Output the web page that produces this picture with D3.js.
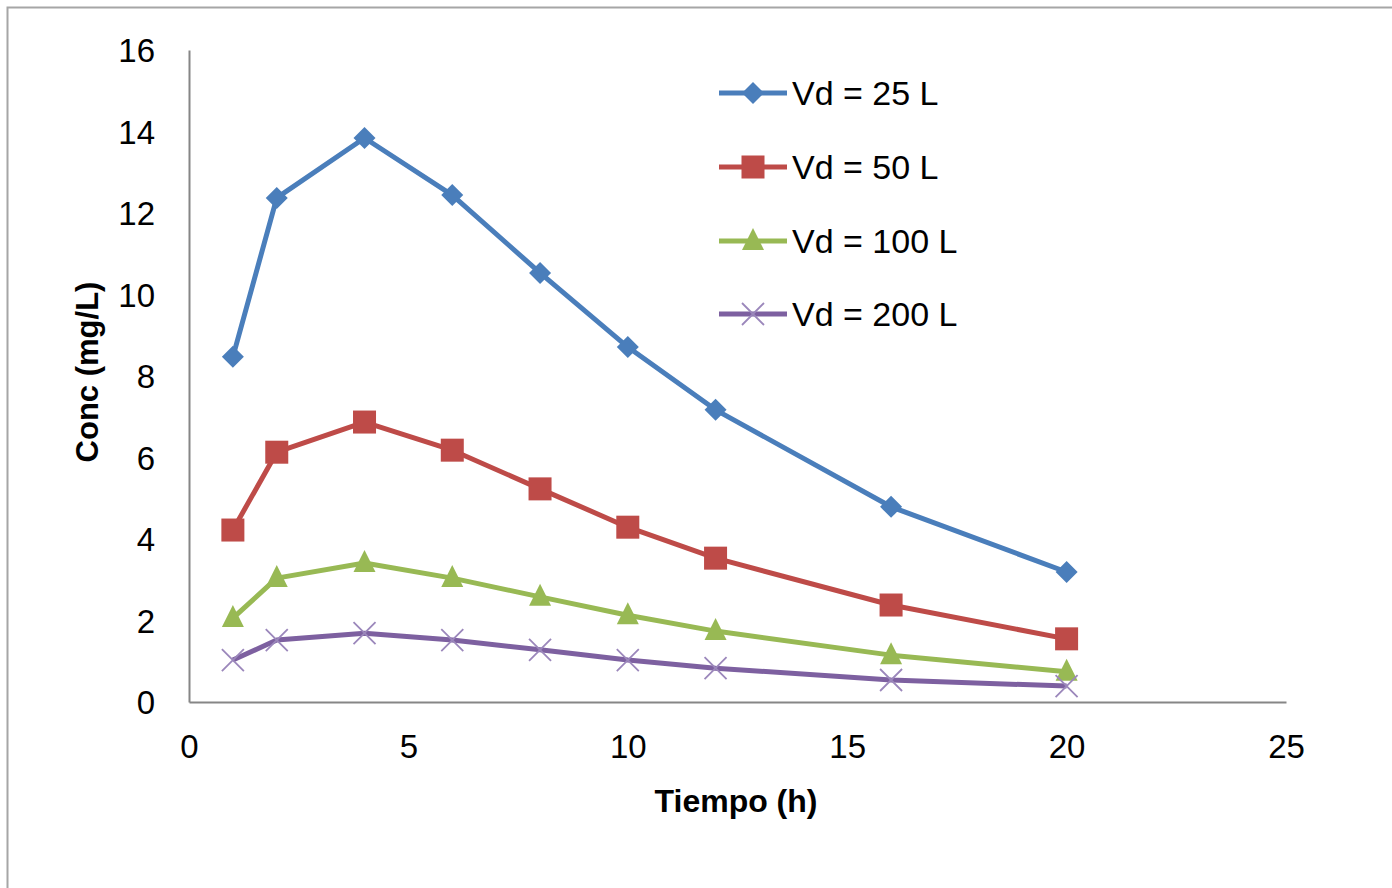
<!DOCTYPE html>
<html>
<head>
<meta charset="utf-8">
<script src="https://cdn.jsdelivr.net/npm/d3@7"></script>
<style>
  html, body { margin: 0; padding: 0; background: #fff; }
  svg { display: block; }
  text { font-family: "Liberation Sans", Arial, sans-serif; fill: #000; }
</style>
</head>
<body>
<svg id="chart" width="1392" height="888"></svg>
<script>
// ---- Data ----
const times = [1, 2, 4, 6, 8, 10, 12, 16, 20];
const vd25  = [8.47, 12.37, 13.84, 12.44, 10.53, 8.71, 7.17, 4.79, 3.19];
const vd50  = [4.22, 6.13, 6.87, 6.18, 5.23, 4.29, 3.53, 2.38, 1.55];
const vd100 = [2.06, 3.04, 3.41, 3.04, 2.58, 2.13, 1.74, 1.15, 0.74];
const vd200 = [1.03, 1.52, 1.69, 1.52, 1.28, 1.03, 0.83, 0.54, 0.39];
const seriesNames = ["Vd = 25 L", "Vd = 50 L", "Vd = 100 L", "Vd = 200 L"];
const xTicks = [0, 5, 10, 15, 20, 25];
const yTicks = [0, 2, 4, 6, 8, 10, 12, 14, 16];

const seriesValues = [vd25, vd50, vd100, vd200];
const colors = ["#4A7EBB", "#BE4B48", "#98B954", "#7D60A0"];
const markers = ["diamond", "square", "triangle", "cross"];

const svg = d3.select("#chart");

// outer chart border
svg.append("rect")
  .attr("x", 7.5).attr("y", 7.5)
  .attr("width", 1400).attr("height", 900)
  .attr("fill", "none")
  .attr("stroke", "#A6A6A6")
  .attr("stroke-width", 2);

const x = d3.scaleLinear().domain([0, 25]).range([189, 1286]);
const y = d3.scaleLinear().domain([0, 16]).range([702, 50]);

// axes
const xAxis = d3.axisBottom(x).tickValues(xTicks).tickSize(0).tickPadding(0).tickFormat(d3.format("d"));
const yAxis = d3.axisLeft(y).tickValues(yTicks).tickSize(0).tickPadding(0).tickFormat(d3.format("d"));

const gx = svg.append("g").attr("transform", `translate(0,${y(0)})`).call(xAxis);
gx.select(".domain").attr("stroke", "#868686").attr("stroke-width", 2);
gx.selectAll(".tick text")
  .attr("font-size", 33)
  .attr("font-family", "'Liberation Sans', Arial, sans-serif")
  .attr("fill", "#000")
  .attr("dy", null)
  .attr("y", 56);

const gy = svg.append("g").attr("transform", `translate(${x(0)},0)`).call(yAxis);
gy.select(".domain").attr("stroke", "#868686").attr("stroke-width", 2);
gy.selectAll(".tick text")
  .attr("font-size", 33)
  .attr("font-family", "'Liberation Sans', Arial, sans-serif")
  .attr("fill", "#000")
  .attr("x", -34)
  .attr("dy", "0.36em");

// axis titles
svg.append("text")
  .attr("x", 736).attr("y", 812)
  .attr("text-anchor", "middle")
  .attr("font-size", 32)
  .attr("font-weight", "bold")
  .text("Tiempo (h)");

svg.append("text")
  .attr("transform", "translate(87,372) rotate(-90)")
  .attr("text-anchor", "middle")
  .attr("dy", "0.35em")
  .attr("font-size", 31)
  .attr("font-weight", "bold")
  .text("Conc (mg/L)");

// markers
function drawMarker(g, type, color, cx, cy) {
  if (type === "diamond") {
    const s = 11;
    g.append("path")
      .attr("d", `M${cx},${cy - s}L${cx + s},${cy}L${cx},${cy + s}L${cx - s},${cy}Z`)
      .attr("fill", color);
  } else if (type === "square") {
    const s = 11.5;
    g.append("rect")
      .attr("x", cx - s).attr("y", cy - s)
      .attr("width", 2 * s).attr("height", 2 * s)
      .attr("fill", color);
  } else if (type === "triangle") {
    const s = 11;
    g.append("path")
      .attr("d", `M${cx},${cy - s - 2}L${cx + s},${cy + s - 2}L${cx - s},${cy + s - 2}Z`)
      .attr("fill", color);
  } else if (type === "cross") {
    const s = 11;
    g.append("path")
      .attr("d", `M${cx - s},${cy - s}L${cx + s},${cy + s}M${cx - s},${cy + s}L${cx + s},${cy - s}`)
      .attr("stroke", "#9B87BB")
      .attr("stroke-width", 1.8)
      .attr("fill", "none");
  }
}

const line = d3.line().x(d => x(d[0])).y(d => y(d[1]));

seriesValues.forEach((vals, i) => {
  const pts = times.map((t, j) => [t, vals[j]]);
  const g = svg.append("g");
  g.append("path")
    .attr("d", line(pts))
    .attr("fill", "none")
    .attr("stroke", colors[i])
    .attr("stroke-width", 5)
    .attr("stroke-linejoin", "round");
  pts.forEach(p => drawMarker(g, markers[i], colors[i], x(p[0]), y(p[1])));
});

// legend
const legendRows = [93, 167, 241, 314];
seriesNames.forEach((name, i) => {
  const g = svg.append("g");
  const cy = legendRows[i];
  g.append("line")
    .attr("x1", 719).attr("x2", 787)
    .attr("y1", cy).attr("y2", cy)
    .attr("stroke", colors[i])
    .attr("stroke-width", 5);
  drawMarker(g, markers[i], colors[i], 753, cy);
  g.append("text")
    .attr("x", 792).attr("y", cy)
    .attr("dy", "0.36em")
    .attr("font-size", 34)
    .text(name);
});
</script>
</body>
</html>
